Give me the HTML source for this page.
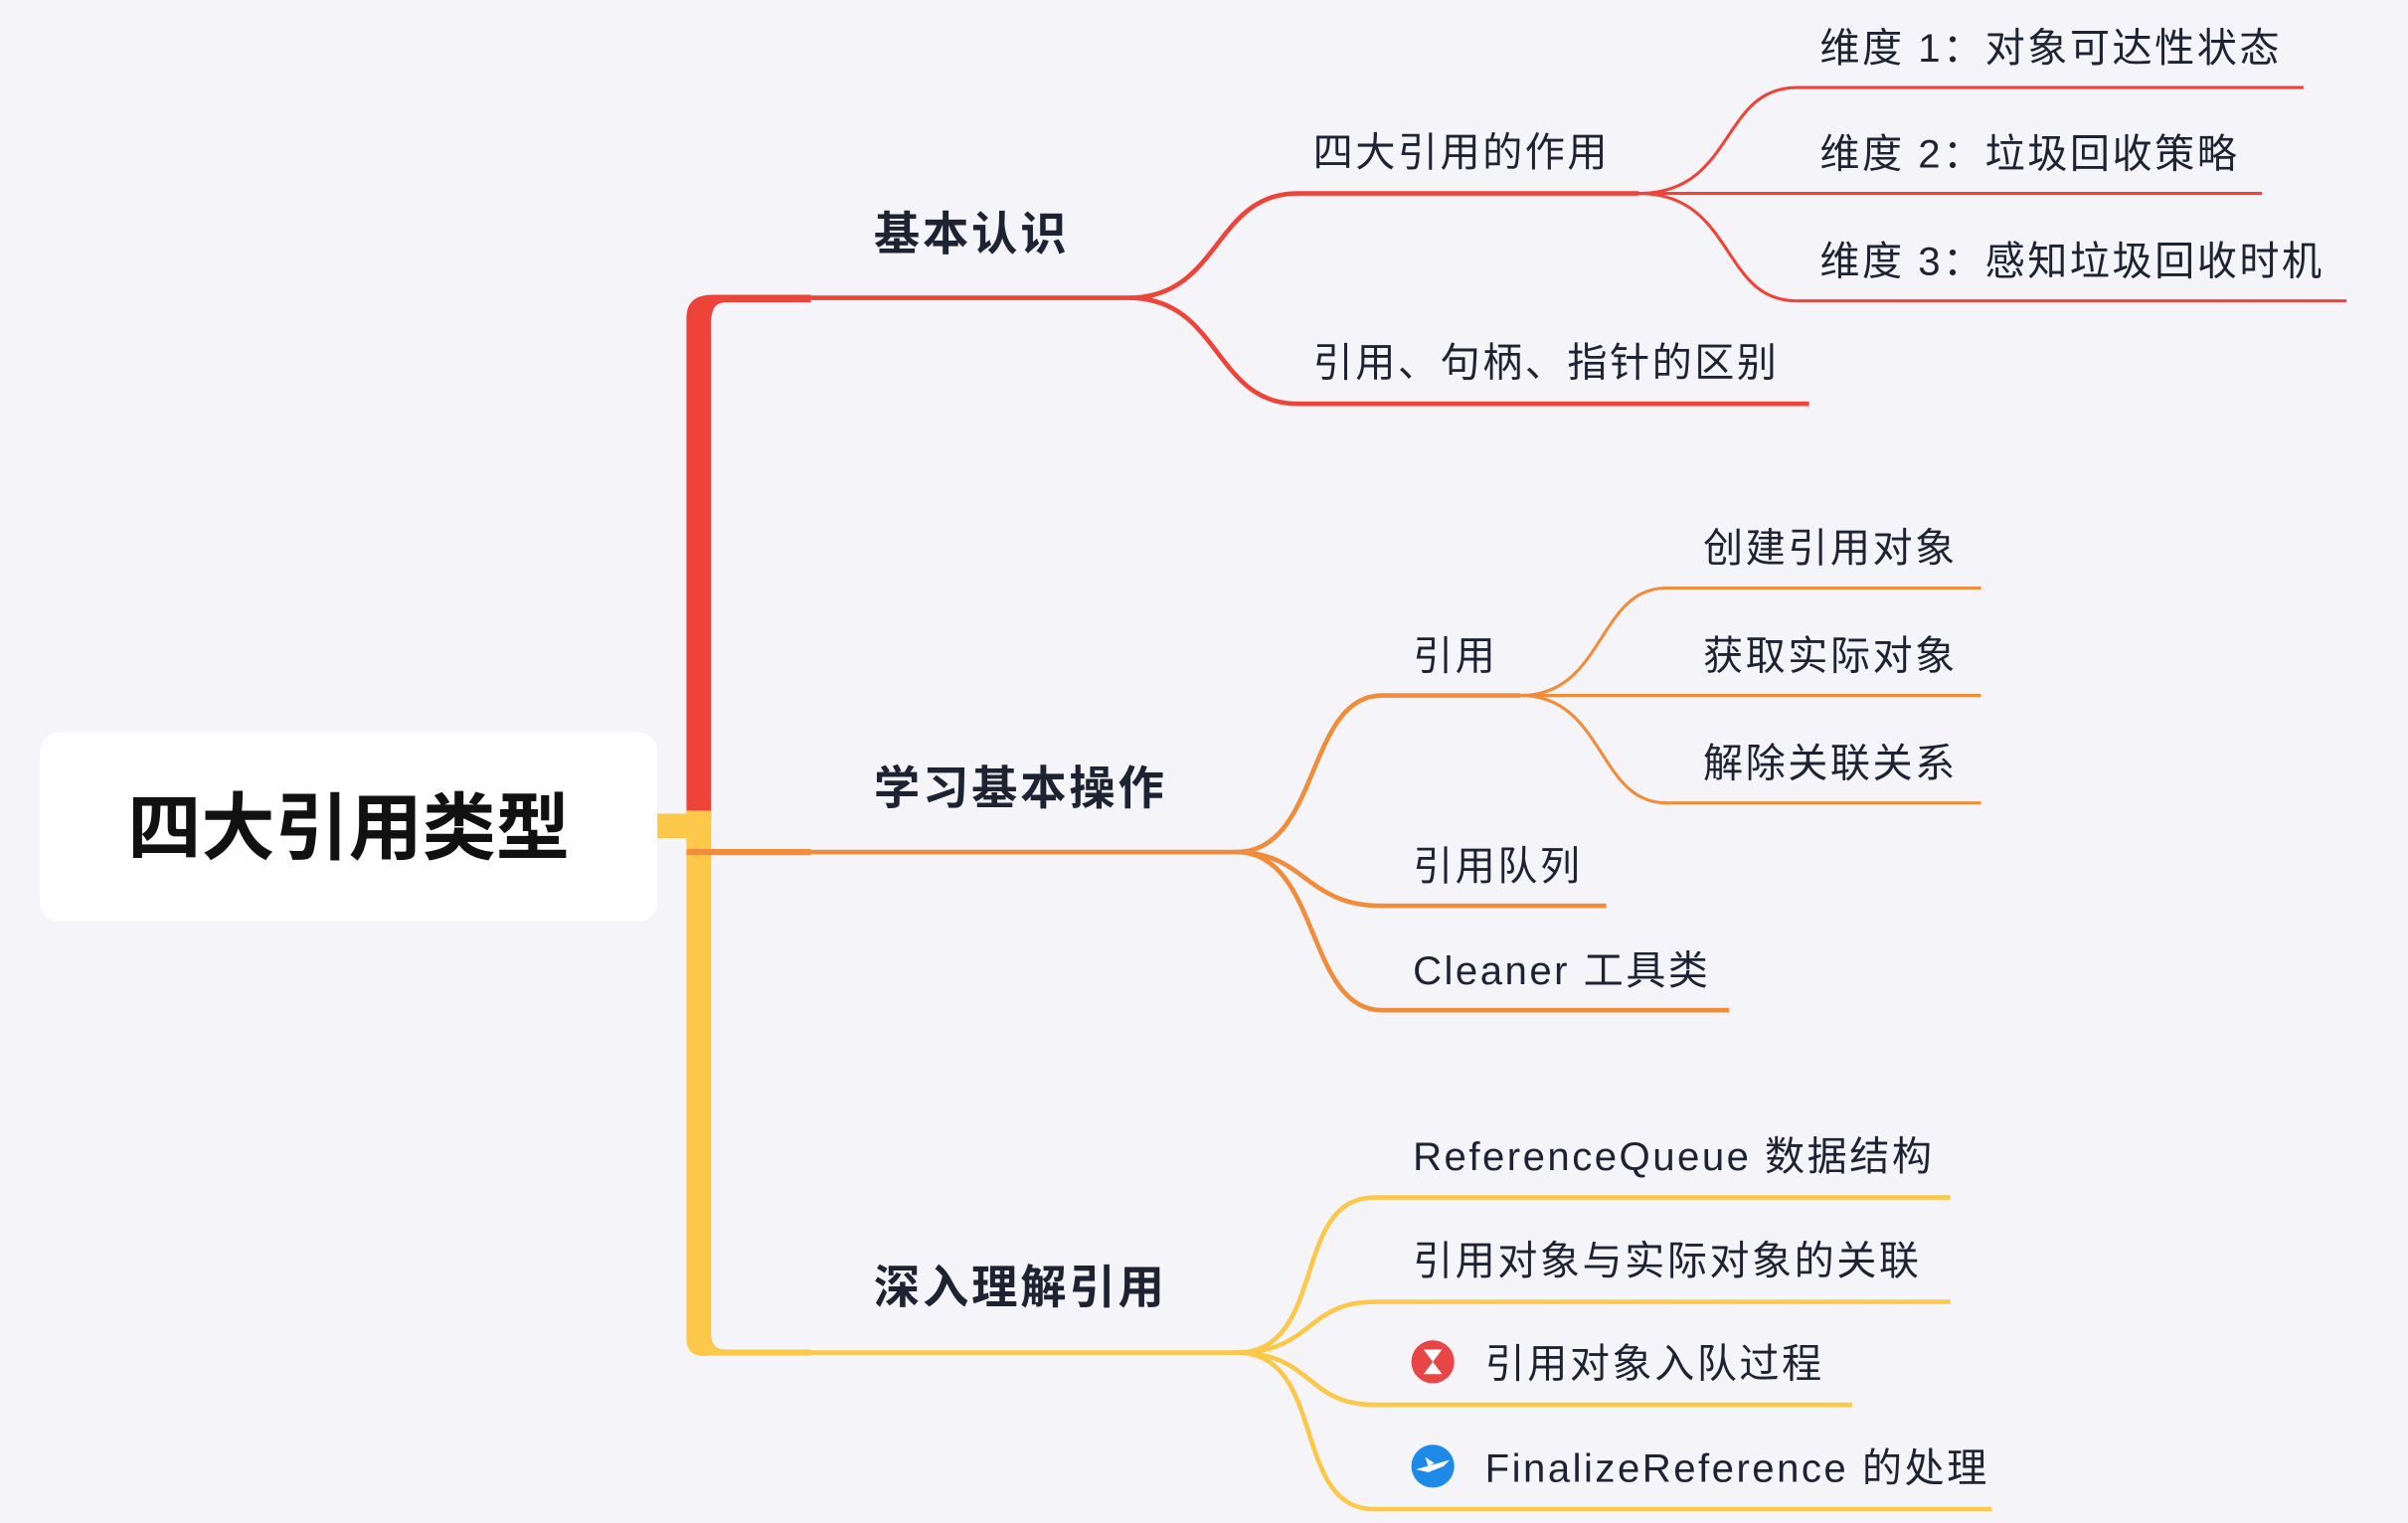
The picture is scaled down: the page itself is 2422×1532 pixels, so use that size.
<!DOCTYPE html>
<html><head><meta charset="utf-8"><style>
html,body{margin:0;padding:0;background:#f5f5f9;}
svg{display:block}
text{font-family:"Liberation Sans","Noto Sans CJK SC",sans-serif;fill:#1d2333;}
.b{font-weight:bold;font-size:30px;letter-spacing:1.8px}
.c{font-size:26px;letter-spacing:1.6px}
</style></head><body>
<svg width="2422" height="1532" viewBox="0 0 1568 992" preserveAspectRatio="none" xmlns="http://www.w3.org/2000/svg">
<rect width="1568" height="992" fill="#f5f5f9"/>
<rect x="26" y="477" width="402" height="123" rx="12" fill="#fff"/>
<text x="227" y="556" text-anchor="middle" style="font-weight:bold;font-size:48px;fill:#111">四大引用类型</text>

<!-- trunk -->
<rect x="428" y="530" width="30" height="16" fill="#fcc84a"/>
<path d="M447 535 V207 Q447 192 464 192 H528 V197 H472 Q463 197 463 210 V535 Z" fill="#ee4339"/>
<path d="M447 528 V872 Q447 885 462 883 H528 V879 H472 Q463 879 463 868 V528 Z" fill="#fcc84a"/>
<path d="M447 553 H528 V557 H447 Z" fill="#f08c3a"/>

<!-- branch 1 red -->
<g fill="none" stroke="#ee4339" stroke-width="3">
<path d="M528 194 H735"/>
<path d="M735 194 C795 194 790 126 845 126 H1067"/>
<path d="M735 194 C795 194 790 263 845 263 H1178"/>
<g stroke-width="2">
<path d="M1067 126 C1130 126 1120 57 1170 57 H1500"/>
<path d="M1067 126 H1473"/>
<path d="M1067 126 C1130 126 1120 196 1170 196 H1528"/>
</g></g>
<text x="569" y="163" class="b">基本认识</text>
<text x="855" y="108" class="c">四大引用的作用</text>
<text x="855" y="245" class="c">引用、句柄、指针的区别</text>
<text x="1185" y="40" class="c">维度 1：对象可达性状态</text>
<text x="1185" y="109" class="c">维度 2：垃圾回收策略</text>
<text x="1185" y="179" class="c">维度 3：感知垃圾回收时机</text>

<!-- branch 2 orange -->
<g fill="none" stroke="#f08c3a" stroke-width="3">
<path d="M528 555 H805"/>
<path d="M805 555 C860 555 850 453 900 453 H990"/>
<path d="M805 555 C850 555 850 590 900 590 H1046"/>
<path d="M805 555 C860 555 850 658 900 658 H1126"/>
<g stroke-width="2">
<path d="M990 453 C1045 453 1040 383 1085 383 H1290"/>
<path d="M990 453 H1290"/>
<path d="M990 453 C1045 453 1040 523 1085 523 H1290"/>
</g></g>
<text x="569" y="524" class="b">学习基本操作</text>
<text x="920" y="436" class="c">引用</text>
<text x="920" y="573" class="c">引用队列</text>
<text x="920" y="641" class="c">Cleaner 工具类</text>
<text x="1109" y="366" class="c">创建引用对象</text>
<text x="1109" y="436" class="c">获取实际对象</text>
<text x="1109" y="506" class="c">解除关联关系</text>

<!-- branch 3 yellow -->
<g fill="none" stroke="#fcc84a" stroke-width="3">
<path d="M528 881 H805"/>
<path d="M805 881 C865 881 840 780 895 780 H1270"/>
<path d="M805 881 C855 881 850 848 895 848 H1270"/>
<path d="M805 881 C855 881 850 915 895 915 H1206"/>
<path d="M805 881 C865 881 840 983 895 983 H1297"/>
</g>
<text x="569" y="849" class="b">深入理解引用</text>
<text x="920" y="762" class="c">ReferenceQueue 数据结构</text>
<text x="920" y="830" class="c">引用对象与实际对象的关联</text>
<text x="967" y="897" class="c">引用对象入队过程</text>
<text x="967" y="965" class="c">FinalizeReference 的处理</text>
<circle cx="933" cy="887" r="14" fill="#e84646"/>
<path d="M927 879 H939 L933 887 L939 895 H927 L933 887 Z" fill="#fff"/>
<circle cx="933" cy="955" r="14" fill="#1e8ae8"/>
<path d="M922 957 L944 951 L940 955 L930 959 Z M928 949 L934 953 L930 955 Z" fill="#fff"/>
</svg>
</body></html>
